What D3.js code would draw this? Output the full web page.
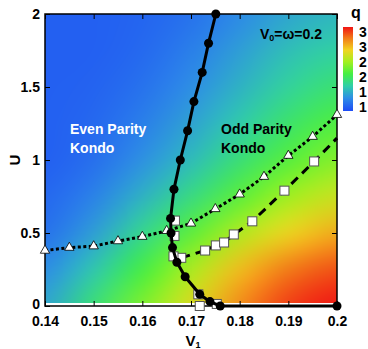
<!DOCTYPE html>
<html lang="en">
<head>
<meta charset="UTF-8">
<title>q phase diagram</title>
<style>
    body { margin: 0; background: #fff; }
    svg { font-family: "Liberation Sans", Arial, sans-serif; }
    .tick line { stroke: #000; stroke-width: 1px; }
    .tick text { font-size: 14px; font-weight: bold; fill: #000; }
    .frame { fill: none; stroke: #000; stroke-width: 1.5px; }
</style>
</head>
<body>
<script src="https://cdn.jsdelivr.net/npm/d3@7/dist/d3.min.js"></script>
<script>
// heat map of q (rows = U, columns = V)
var gridV = [0.14, 0.15, 0.16, 0.17, 0.18, 0.19, 0.2];
var gridU = [0, 0.25, 0.5, 0.75, 1, 1.25, 1.5, 1.75, 2];
var gridQ = [
    [1.45, 1.90, 2.35, 2.78, 3.22, 3.52, 3.66],
    [1.30, 1.65, 2.10, 2.55, 3.00, 3.30, 3.45],
    [1.12, 1.40, 1.80, 2.20, 2.58, 2.88, 3.08],
    [1.05, 1.22, 1.52, 1.85, 2.20, 2.50, 2.70],
    [1.00, 1.10, 1.32, 1.58, 1.90, 2.18, 2.38],
    [1.00, 1.05, 1.20, 1.42, 1.68, 1.95, 2.15],
    [1.00, 1.02, 1.12, 1.30, 1.52, 1.75, 1.92],
    [1.00, 1.00, 1.06, 1.20, 1.40, 1.60, 1.72],
    [1.00, 1.00, 1.03, 1.12, 1.28, 1.45, 1.55]
];

// filled circles, solid line
var circV = [0.1751, 0.1736, 0.1723, 0.1706, 0.1693, 0.1678, 0.1665, 0.1658, 0.1659, 0.1662, 0.1671, 0.1688, 0.1718, 0.1739, 0.176, 0.2];
var circU = [2.0, 1.8, 1.6, 1.4, 1.2, 1.0, 0.8, 0.6, 0.5, 0.4, 0.3, 0.2, 0.08, 0.03, 0, 0];

// open triangles, dotted line
var triV = [0.14, 0.145, 0.15, 0.155, 0.16, 0.165, 0.17, 0.175, 0.18, 0.185, 0.19, 0.195, 0.2];
var triU = [0.38, 0.40, 0.41, 0.445, 0.475, 0.515, 0.566, 0.665, 0.765, 0.886, 1.03, 1.16, 1.31];

// open squares, dashed line (last point has no marker)
var sqV = [0.168, 0.1729, 0.1751, 0.1768, 0.1788, 0.1826, 0.1892, 0.1953, 0.2];
var sqU = [0.33, 0.38, 0.415, 0.435, 0.49, 0.58, 0.79, 0.99, 1.15];
// open squares along the solid boundary
var sq2V = [0.1667, 0.1666, 0.1664, 0.1715, 0.1753, 0.1718];
var sq2U = [0.585, 0.48, 0.34, 0.08, 0.014, 0.0];

var xTicks = [0.14, 0.15, 0.16, 0.17, 0.18, 0.19, 0.2];
var xTickLabels = ["0.14", "0.15", "0.16", "0.17", "0.18", "0.19", "0.2"];
var yTicks = [0, 0.5, 1, 1.5, 2];
var yTickLabels = ["0", "0.5", "1", "1.5", "2"];
var cbTicks = [1, 1.5, 2, 2.5, 3, 3.5];
var cbTickLabels = ["1", "1", "2", "2", "3", "3"];

var colorStops = [0.87, 1.3, 1.7, 2.1, 2.5, 2.9, 3.3, 3.67];
var colorList = ["#1e4cf6", "#2e8ee6", "#30cfa8", "#44ef44", "#a2f020", "#f2d420", "#f27a18", "#f01414"];

var margin = { top: 14, left: 45 },
    width = 292,
    height = 292;

var x = d3.scaleLinear().domain([0.14, 0.2]).range([0, width]);
var y = d3.scaleLinear().domain([0, 2]).range([height, 0]);
var color = d3.scaleLinear().domain(colorStops).range(colorList).clamp(true);

var svg = d3.select("body").append("svg")
    .attr("width", 368)
    .attr("height", 349);

var g = svg.append("g")
    .attr("transform", "translate(" + margin.left + "," + margin.top + ")");

// heat map: one pixel per grid value, scaled up smoothly
var small = document.createElement("canvas");
small.width = gridV.length;
small.height = gridU.length;
var sctx = small.getContext("2d");
gridQ.forEach(function (row, j) {
    row.forEach(function (q, i) {
        sctx.fillStyle = color(q);
        sctx.fillRect(i, gridU.length - 1 - j, 1, 1);
    });
});
var dv = (gridV[1] - gridV[0]) / 2, du = (gridU[1] - gridU[0]) / 2;
var ix0 = x(gridV[0] - dv), ix1 = x(gridV[gridV.length - 1] + dv);
var iy0 = y(gridU[gridU.length - 1] + du), iy1 = y(gridU[0] - du);
var big = document.createElement("canvas");
big.width = Math.round(ix1 - ix0);
big.height = Math.round(iy1 - iy0);
var bctx = big.getContext("2d");
bctx.imageSmoothingEnabled = true;
bctx.imageSmoothingQuality = "high";
bctx.drawImage(small, 0, 0, big.width, big.height);

g.append("clipPath").attr("id", "heatclip")
    .append("rect")
    .attr("x", 0).attr("y", 0)
    .attr("width", width).attr("height", y(0.02));

g.append("image")
    .attr("clip-path", "url(#heatclip)")
    .attr("x", ix0).attr("y", iy0)
    .attr("width", ix1 - ix0).attr("height", iy1 - iy0)
    .attr("preserveAspectRatio", "none")
    .attr("href", big.toDataURL());

// axes, ticks inside on all four sides
g.append("g")
    .attr("transform", "translate(0," + height + ")")
    .call(d3.axisBottom(x).tickValues(xTicks).tickSize(-5).tickSizeOuter(0).tickPadding(10)
        .tickFormat(function (d, i) { return xTickLabels[i]; }));
g.append("g")
    .call(d3.axisTop(x).tickValues(xTicks).tickSize(-5).tickSizeOuter(0).tickFormat(""));
g.append("g")
    .call(d3.axisLeft(y).tickValues(yTicks).tickSize(-5).tickSizeOuter(0).tickPadding(5)
        .tickFormat(function (d, i) { return yTickLabels[i]; }));
g.append("g")
    .attr("transform", "translate(" + width + ",0)")
    .call(d3.axisRight(y).tickValues(yTicks).tickSize(-5).tickSizeOuter(0).tickFormat(""));
g.selectAll(".domain").remove();
// the "0" on the U axis sits a little below the axis line
g.selectAll(".tick text").filter(function (d) { return d === 0 && this.getAttribute("x") !== null && +this.getAttribute("x") < 0; })
    .attr("dy", "0.2em");

g.append("rect").attr("class", "frame")
    .attr("width", width).attr("height", height);

// dotted line with triangles
var tri = triV.map(function (v, i) { return [v, triU[i]]; });
var line = d3.line().x(function (d) { return x(d[0]); }).y(function (d) { return y(d[1]); });

g.append("path")
    .attr("d", line(tri))
    .attr("fill", "none").attr("stroke", "#000")
    .attr("stroke-width", 3).attr("stroke-dasharray", "3,2.5");

// dashed line with squares
var sq = sqV.map(function (v, i) { return [v, sqU[i]]; });
g.append("path")
    .attr("d", line(sq))
    .attr("fill", "none").attr("stroke", "#000")
    .attr("stroke-width", 3).attr("stroke-dasharray", "9,6");

var sqPts = sq.slice(0, sq.length - 1).concat(sq2V.map(function (v, i) { return [v, sq2U[i]]; }));
g.selectAll(".sq").data(sqPts).enter().append("rect")
    .attr("class", "sq")
    .attr("x", function (d) { return x(d[0]) - 4.5; })
    .attr("y", function (d) { return y(d[1]) - 4.5; })
    .attr("width", 9).attr("height", 9)
    .attr("fill", "#fff").attr("stroke", "#555").attr("stroke-width", 1);

g.selectAll(".tri").data(tri).enter().append("path")
    .attr("class", "tri")
    .attr("transform", function (d) { return "translate(" + x(d[0]) + "," + y(d[1]) + ")"; })
    .attr("d", d3.symbol().type(d3.symbolTriangle).size(38))
    .attr("fill", "#fff").attr("stroke", "#000").attr("stroke-width", 0.8);

// solid line with filled circles
var circ = circV.map(function (v, i) { return [v, circU[i]]; });
g.append("path")
    .attr("d", line(circ))
    .attr("fill", "none").attr("stroke", "#000").attr("stroke-width", 3);
g.selectAll(".circ").data(circ).enter().append("circle")
    .attr("class", "circ")
    .attr("cx", function (d) { return x(d[0]); })
    .attr("cy", function (d) { return y(d[1]); })
    .attr("r", 4.5).attr("fill", "#000");

// labels
var xl = svg.append("text")
    .attr("x", 193).attr("y", 346)
    .attr("text-anchor", "middle")
    .attr("font-size", 15).attr("font-weight", "bold");
xl.append("tspan").text("V");
xl.append("tspan").attr("font-size", 9).attr("dy", 2).text("1");

svg.append("text")
    .attr("transform", "translate(20,160) rotate(-90)")
    .attr("text-anchor", "middle")
    .attr("font-size", 15).attr("font-weight", "bold")
    .text("U");

var vt = svg.append("text")
    .attr("x", 260).attr("y", 39)
    .attr("font-size", 14).attr("font-weight", "bold");
vt.append("tspan").text("V");
vt.append("tspan").attr("font-size", 9).attr("dy", 2).text("0");
vt.append("tspan").attr("dy", -2).text("=ω=0.2");

svg.append("text").attr("x", 70).attr("y", 134)
    .attr("fill", "#fff").attr("font-size", 14).attr("font-weight", "bold")
    .text("Even Parity");
svg.append("text").attr("x", 70).attr("y", 153)
    .attr("fill", "#fff").attr("font-size", 14).attr("font-weight", "bold")
    .text("Kondo");
svg.append("text").attr("x", 221).attr("y", 134)
    .attr("fill", "#000").attr("font-size", 14).attr("font-weight", "bold")
    .text("Odd Parity");
svg.append("text").attr("x", 221).attr("y", 153)
    .attr("fill", "#000").attr("font-size", 14).attr("font-weight", "bold")
    .text("Kondo");

// colour bar
var cb = d3.scaleLinear().domain([1, 3.5]).range([107, 32]);
var cbq0 = cb.invert(111), cbq1 = cb.invert(27);
var grad = svg.append("defs").append("linearGradient")
    .attr("id", "cbgrad").attr("x1", 0).attr("y1", 1).attr("x2", 0).attr("y2", 0);
colorStops.forEach(function (q, i) {
    grad.append("stop")
        .attr("offset", Math.max(0, Math.min(1, (q - cbq0) / (cbq1 - cbq0))))
        .attr("stop-color", colorList[i]);
});
svg.append("rect")
    .attr("x", 343).attr("y", 27)
    .attr("width", 10).attr("height", 84)
    .attr("fill", "url(#cbgrad)");
svg.selectAll(".cbl").data(cbTicks).enter().append("text")
    .attr("class", "cbl")
    .attr("x", 359)
    .attr("y", function (d) { return cb(d) + 5; })
    .attr("font-size", 14).attr("font-weight", "bold")
    .text(function (d, i) { return cbTickLabels[i]; });
svg.append("text").attr("x", 356).attr("y", 18)
    .attr("text-anchor", "middle")
    .attr("font-size", 16).attr("font-weight", "bold")
    .text("q");
</script>
</body>
</html>
